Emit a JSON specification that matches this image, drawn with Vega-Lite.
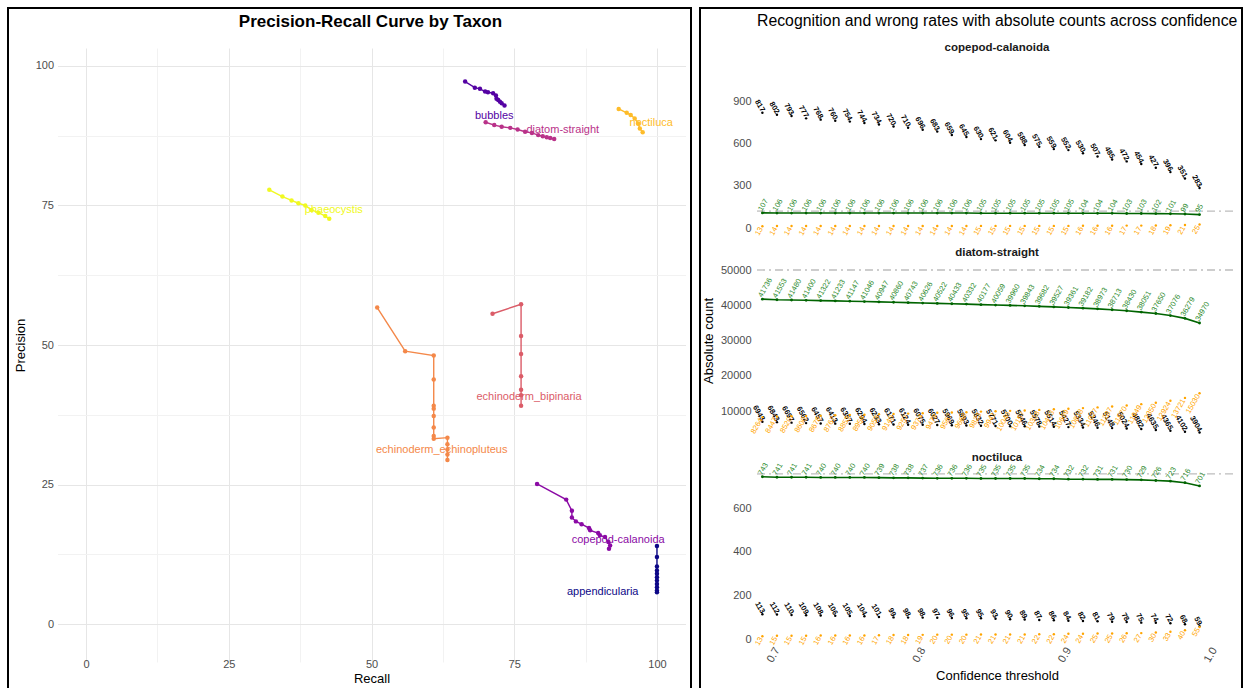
{
  "$schema": "https://vega.github.io/schema/vega-lite/v6.json",
  "padding": {"left": 7, "top": 7, "right": 0, "bottom": 0},
  "background": "white",
  "spacing": 7,
  "config": {
    "font": "Liberation Sans",
    "axis": {"labelFont": "Liberation Sans", "titleFont": "Liberation Sans", "labelColor": "#4d4d4d", "labelFontSize": 11, "titleColor": "black", "titleFontSize": 13, "titleFontWeight": "normal", "domain": false, "ticks": false},
    "title": {"font": "Liberation Sans", "color": "black"}
  },
  "datasets": {
    "pr": [
      {"taxon": "appendicularia", "i": 1, "recall": 100, "precision": 14.0},
      {"taxon": "appendicularia", "i": 2, "recall": 100, "precision": 12.0},
      {"taxon": "appendicularia", "i": 3, "recall": 100, "precision": 10.3},
      {"taxon": "appendicularia", "i": 4, "recall": 100, "precision": 9.6},
      {"taxon": "appendicularia", "i": 5, "recall": 100, "precision": 9.0},
      {"taxon": "appendicularia", "i": 6, "recall": 100, "precision": 8.4},
      {"taxon": "appendicularia", "i": 7, "recall": 100, "precision": 7.8},
      {"taxon": "appendicularia", "i": 8, "recall": 100, "precision": 7.2},
      {"taxon": "appendicularia", "i": 9, "recall": 100, "precision": 6.6},
      {"taxon": "appendicularia", "i": 10, "recall": 100, "precision": 6.0},
      {"taxon": "appendicularia", "i": 11, "recall": 100, "precision": 5.7},
      {"taxon": "bubbles", "i": 1, "recall": 66.4, "precision": 97.2},
      {"taxon": "bubbles", "i": 2, "recall": 68.1, "precision": 96.1},
      {"taxon": "bubbles", "i": 3, "recall": 69.0, "precision": 95.9},
      {"taxon": "bubbles", "i": 4, "recall": 69.9, "precision": 95.4},
      {"taxon": "bubbles", "i": 5, "recall": 70.4, "precision": 95.3},
      {"taxon": "bubbles", "i": 6, "recall": 71.3, "precision": 95.1},
      {"taxon": "bubbles", "i": 7, "recall": 71.8, "precision": 94.7},
      {"taxon": "bubbles", "i": 8, "recall": 71.9, "precision": 94.1},
      {"taxon": "bubbles", "i": 9, "recall": 72.2, "precision": 93.9},
      {"taxon": "bubbles", "i": 10, "recall": 72.5, "precision": 93.6},
      {"taxon": "bubbles", "i": 11, "recall": 72.8, "precision": 93.3},
      {"taxon": "bubbles", "i": 12, "recall": 73.3, "precision": 92.9},
      {"taxon": "copepod-calanoida", "i": 1, "recall": 79.0, "precision": 25.1},
      {"taxon": "copepod-calanoida", "i": 2, "recall": 84.1, "precision": 22.3},
      {"taxon": "copepod-calanoida", "i": 3, "recall": 85.1, "precision": 20.3},
      {"taxon": "copepod-calanoida", "i": 4, "recall": 85.1, "precision": 19.1},
      {"taxon": "copepod-calanoida", "i": 5, "recall": 85.8, "precision": 18.4},
      {"taxon": "copepod-calanoida", "i": 6, "recall": 86.8, "precision": 17.9},
      {"taxon": "copepod-calanoida", "i": 7, "recall": 88.1, "precision": 17.2},
      {"taxon": "copepod-calanoida", "i": 8, "recall": 88.3, "precision": 16.8},
      {"taxon": "copepod-calanoida", "i": 9, "recall": 89.7, "precision": 16.3},
      {"taxon": "copepod-calanoida", "i": 10, "recall": 90.0, "precision": 15.9},
      {"taxon": "copepod-calanoida", "i": 11, "recall": 90.9, "precision": 15.6},
      {"taxon": "copepod-calanoida", "i": 12, "recall": 91.5, "precision": 14.7},
      {"taxon": "copepod-calanoida", "i": 13, "recall": 91.8, "precision": 14.1},
      {"taxon": "copepod-calanoida", "i": 14, "recall": 91.6, "precision": 13.5},
      {"taxon": "diatom-straight", "i": 1, "recall": 70.0, "precision": 89.9},
      {"taxon": "diatom-straight", "i": 2, "recall": 71.5, "precision": 89.4},
      {"taxon": "diatom-straight", "i": 3, "recall": 72.8, "precision": 89.1},
      {"taxon": "diatom-straight", "i": 4, "recall": 74.3, "precision": 88.9},
      {"taxon": "diatom-straight", "i": 5, "recall": 75.6, "precision": 88.6},
      {"taxon": "diatom-straight", "i": 6, "recall": 76.9, "precision": 88.2},
      {"taxon": "diatom-straight", "i": 7, "recall": 78.1, "precision": 88.0},
      {"taxon": "diatom-straight", "i": 8, "recall": 79.2, "precision": 87.6},
      {"taxon": "diatom-straight", "i": 9, "recall": 80.0, "precision": 87.4},
      {"taxon": "diatom-straight", "i": 10, "recall": 80.7, "precision": 87.2},
      {"taxon": "diatom-straight", "i": 11, "recall": 81.3, "precision": 87.1},
      {"taxon": "diatom-straight", "i": 12, "recall": 82.0, "precision": 86.9},
      {"taxon": "echinoderm_bipinaria", "i": 1, "recall": 71.2, "precision": 55.6},
      {"taxon": "echinoderm_bipinaria", "i": 2, "recall": 76.2, "precision": 57.3},
      {"taxon": "echinoderm_bipinaria", "i": 3, "recall": 76.2, "precision": 51.6},
      {"taxon": "echinoderm_bipinaria", "i": 4, "recall": 76.2, "precision": 48.4},
      {"taxon": "echinoderm_bipinaria", "i": 5, "recall": 76.2, "precision": 44.4},
      {"taxon": "echinoderm_bipinaria", "i": 6, "recall": 76.2, "precision": 42.0},
      {"taxon": "echinoderm_bipinaria", "i": 7, "recall": 76.2, "precision": 41.0},
      {"taxon": "echinoderm_bipinaria", "i": 8, "recall": 76.2, "precision": 39.1},
      {"taxon": "echinoderm_echinopluteus", "i": 1, "recall": 51.0, "precision": 56.7},
      {"taxon": "echinoderm_echinopluteus", "i": 2, "recall": 55.9, "precision": 48.9},
      {"taxon": "echinoderm_echinopluteus", "i": 3, "recall": 60.9, "precision": 48.1},
      {"taxon": "echinoderm_echinopluteus", "i": 4, "recall": 60.9, "precision": 43.8},
      {"taxon": "echinoderm_echinopluteus", "i": 5, "recall": 60.9, "precision": 39.1},
      {"taxon": "echinoderm_echinopluteus", "i": 6, "recall": 60.9, "precision": 38.6},
      {"taxon": "echinoderm_echinopluteus", "i": 7, "recall": 60.9, "precision": 37.3},
      {"taxon": "echinoderm_echinopluteus", "i": 8, "recall": 60.9, "precision": 35.2},
      {"taxon": "echinoderm_echinopluteus", "i": 9, "recall": 60.9, "precision": 33.7},
      {"taxon": "echinoderm_echinopluteus", "i": 10, "recall": 60.9, "precision": 33.2},
      {"taxon": "echinoderm_echinopluteus", "i": 11, "recall": 63.3, "precision": 33.4},
      {"taxon": "echinoderm_echinopluteus", "i": 12, "recall": 63.3, "precision": 32.2},
      {"taxon": "echinoderm_echinopluteus", "i": 13, "recall": 63.3, "precision": 31.3},
      {"taxon": "echinoderm_echinopluteus", "i": 14, "recall": 63.3, "precision": 30.4},
      {"taxon": "echinoderm_echinopluteus", "i": 15, "recall": 63.3, "precision": 29.4},
      {"taxon": "noctiluca", "i": 1, "recall": 93.3, "precision": 92.3},
      {"taxon": "noctiluca", "i": 2, "recall": 94.7, "precision": 91.6},
      {"taxon": "noctiluca", "i": 3, "recall": 95.4, "precision": 91.2},
      {"taxon": "noctiluca", "i": 4, "recall": 96.1, "precision": 90.6},
      {"taxon": "noctiluca", "i": 5, "recall": 96.7, "precision": 89.7},
      {"taxon": "noctiluca", "i": 6, "recall": 97.0, "precision": 88.8},
      {"taxon": "noctiluca", "i": 7, "recall": 97.5, "precision": 88.1},
      {"taxon": "phaeocystis", "i": 1, "recall": 32.1, "precision": 77.8},
      {"taxon": "phaeocystis", "i": 2, "recall": 34.4, "precision": 76.6},
      {"taxon": "phaeocystis", "i": 3, "recall": 36.0, "precision": 75.9},
      {"taxon": "phaeocystis", "i": 4, "recall": 37.2, "precision": 75.4},
      {"taxon": "phaeocystis", "i": 5, "recall": 38.4, "precision": 75.0},
      {"taxon": "phaeocystis", "i": 6, "recall": 39.5, "precision": 74.2},
      {"taxon": "phaeocystis", "i": 7, "recall": 40.7, "precision": 73.7},
      {"taxon": "phaeocystis", "i": 8, "recall": 41.9, "precision": 73.1},
      {"taxon": "phaeocystis", "i": 9, "recall": 42.6, "precision": 72.6}
    ],
    "prlabels": [
      {"taxon": "appendicularia", "recall": 90.5, "precision": 5.7},
      {"taxon": "bubbles", "recall": 71.5, "precision": 91.1},
      {"taxon": "copepod-calanoida", "recall": 93.2, "precision": 15.0},
      {"taxon": "diatom-straight", "recall": 83.5, "precision": 88.6},
      {"taxon": "echinoderm_bipinaria", "recall": 77.6, "precision": 40.6},
      {"taxon": "echinoderm_echinopluteus", "recall": 62.3, "precision": 31.1},
      {"taxon": "noctiluca", "recall": 99.0, "precision": 89.8},
      {"taxon": "phaeocystis", "recall": 43.4, "precision": 74.2}
    ],
    "counts": [
      {"taxon": "copepod-calanoida", "threshold": 0.69, "recognized": 107, "wrong": 817, "missed": 13, "total": 120},
      {"taxon": "copepod-calanoida", "threshold": 0.70, "recognized": 106, "wrong": 802, "missed": 14, "total": 120},
      {"taxon": "copepod-calanoida", "threshold": 0.71, "recognized": 106, "wrong": 793, "missed": 14, "total": 120},
      {"taxon": "copepod-calanoida", "threshold": 0.72, "recognized": 106, "wrong": 777, "missed": 14, "total": 120},
      {"taxon": "copepod-calanoida", "threshold": 0.73, "recognized": 106, "wrong": 768, "missed": 14, "total": 120},
      {"taxon": "copepod-calanoida", "threshold": 0.74, "recognized": 106, "wrong": 760, "missed": 14, "total": 120},
      {"taxon": "copepod-calanoida", "threshold": 0.75, "recognized": 106, "wrong": 754, "missed": 14, "total": 120},
      {"taxon": "copepod-calanoida", "threshold": 0.76, "recognized": 106, "wrong": 744, "missed": 14, "total": 120},
      {"taxon": "copepod-calanoida", "threshold": 0.77, "recognized": 106, "wrong": 734, "missed": 14, "total": 120},
      {"taxon": "copepod-calanoida", "threshold": 0.78, "recognized": 106, "wrong": 720, "missed": 14, "total": 120},
      {"taxon": "copepod-calanoida", "threshold": 0.79, "recognized": 106, "wrong": 710, "missed": 14, "total": 120},
      {"taxon": "copepod-calanoida", "threshold": 0.80, "recognized": 106, "wrong": 696, "missed": 14, "total": 120},
      {"taxon": "copepod-calanoida", "threshold": 0.81, "recognized": 106, "wrong": 683, "missed": 14, "total": 120},
      {"taxon": "copepod-calanoida", "threshold": 0.82, "recognized": 106, "wrong": 659, "missed": 14, "total": 120},
      {"taxon": "copepod-calanoida", "threshold": 0.83, "recognized": 106, "wrong": 645, "missed": 14, "total": 120},
      {"taxon": "copepod-calanoida", "threshold": 0.84, "recognized": 105, "wrong": 630, "missed": 15, "total": 120},
      {"taxon": "copepod-calanoida", "threshold": 0.85, "recognized": 105, "wrong": 621, "missed": 15, "total": 120},
      {"taxon": "copepod-calanoida", "threshold": 0.86, "recognized": 105, "wrong": 604, "missed": 15, "total": 120},
      {"taxon": "copepod-calanoida", "threshold": 0.87, "recognized": 105, "wrong": 588, "missed": 15, "total": 120},
      {"taxon": "copepod-calanoida", "threshold": 0.88, "recognized": 105, "wrong": 575, "missed": 15, "total": 120},
      {"taxon": "copepod-calanoida", "threshold": 0.89, "recognized": 105, "wrong": 559, "missed": 15, "total": 120},
      {"taxon": "copepod-calanoida", "threshold": 0.90, "recognized": 105, "wrong": 552, "missed": 15, "total": 120},
      {"taxon": "copepod-calanoida", "threshold": 0.91, "recognized": 104, "wrong": 530, "missed": 16, "total": 120},
      {"taxon": "copepod-calanoida", "threshold": 0.92, "recognized": 104, "wrong": 507, "missed": 16, "total": 120},
      {"taxon": "copepod-calanoida", "threshold": 0.93, "recognized": 104, "wrong": 485, "missed": 16, "total": 120},
      {"taxon": "copepod-calanoida", "threshold": 0.94, "recognized": 103, "wrong": 472, "missed": 17, "total": 120},
      {"taxon": "copepod-calanoida", "threshold": 0.95, "recognized": 103, "wrong": 454, "missed": 17, "total": 120},
      {"taxon": "copepod-calanoida", "threshold": 0.96, "recognized": 102, "wrong": 427, "missed": 18, "total": 120},
      {"taxon": "copepod-calanoida", "threshold": 0.97, "recognized": 101, "wrong": 396, "missed": 19, "total": 120},
      {"taxon": "copepod-calanoida", "threshold": 0.98, "recognized": 99, "wrong": 351, "missed": 21, "total": 120},
      {"taxon": "copepod-calanoida", "threshold": 0.99, "recognized": 95, "wrong": 283, "missed": 25, "total": 120},
      {"taxon": "diatom-straight", "threshold": 0.69, "recognized": 41736, "wrong": 6943, "missed": 8264, "total": 50000},
      {"taxon": "diatom-straight", "threshold": 0.70, "recognized": 41553, "wrong": 6843, "missed": 8447, "total": 50000},
      {"taxon": "diatom-straight", "threshold": 0.71, "recognized": 41480, "wrong": 6697, "missed": 8520, "total": 50000},
      {"taxon": "diatom-straight", "threshold": 0.72, "recognized": 41400, "wrong": 6562, "missed": 8600, "total": 50000},
      {"taxon": "diatom-straight", "threshold": 0.73, "recognized": 41322, "wrong": 6457, "missed": 8678, "total": 50000},
      {"taxon": "diatom-straight", "threshold": 0.74, "recognized": 41233, "wrong": 6413, "missed": 8767, "total": 50000},
      {"taxon": "diatom-straight", "threshold": 0.75, "recognized": 41147, "wrong": 6357, "missed": 8853, "total": 50000},
      {"taxon": "diatom-straight", "threshold": 0.76, "recognized": 41046, "wrong": 6294, "missed": 8954, "total": 50000},
      {"taxon": "diatom-straight", "threshold": 0.77, "recognized": 40947, "wrong": 6233, "missed": 9053, "total": 50000},
      {"taxon": "diatom-straight", "threshold": 0.78, "recognized": 40860, "wrong": 6171, "missed": 9140, "total": 50000},
      {"taxon": "diatom-straight", "threshold": 0.79, "recognized": 40743, "wrong": 6124, "missed": 9257, "total": 50000},
      {"taxon": "diatom-straight", "threshold": 0.80, "recognized": 40626, "wrong": 6075, "missed": 9374, "total": 50000},
      {"taxon": "diatom-straight", "threshold": 0.81, "recognized": 40522, "wrong": 6027, "missed": 9478, "total": 50000},
      {"taxon": "diatom-straight", "threshold": 0.82, "recognized": 40433, "wrong": 5969, "missed": 9567, "total": 50000},
      {"taxon": "diatom-straight", "threshold": 0.83, "recognized": 40332, "wrong": 5893, "missed": 9668, "total": 50000},
      {"taxon": "diatom-straight", "threshold": 0.84, "recognized": 40177, "wrong": 5832, "missed": 9823, "total": 50000},
      {"taxon": "diatom-straight", "threshold": 0.85, "recognized": 40059, "wrong": 5771, "missed": 9941, "total": 50000},
      {"taxon": "diatom-straight", "threshold": 0.86, "recognized": 39960, "wrong": 5700, "missed": 10040, "total": 50000},
      {"taxon": "diatom-straight", "threshold": 0.87, "recognized": 39843, "wrong": 5646, "missed": 10157, "total": 50000},
      {"taxon": "diatom-straight", "threshold": 0.88, "recognized": 39682, "wrong": 5578, "missed": 10318, "total": 50000},
      {"taxon": "diatom-straight", "threshold": 0.89, "recognized": 39527, "wrong": 5514, "missed": 10473, "total": 50000},
      {"taxon": "diatom-straight", "threshold": 0.90, "recognized": 39361, "wrong": 5427, "missed": 10639, "total": 50000},
      {"taxon": "diatom-straight", "threshold": 0.91, "recognized": 39182, "wrong": 5334, "missed": 10818, "total": 50000},
      {"taxon": "diatom-straight", "threshold": 0.92, "recognized": 38973, "wrong": 5246, "missed": 11027, "total": 50000},
      {"taxon": "diatom-straight", "threshold": 0.93, "recognized": 38713, "wrong": 5148, "missed": 11287, "total": 50000},
      {"taxon": "diatom-straight", "threshold": 0.94, "recognized": 38430, "wrong": 5024, "missed": 11570, "total": 50000},
      {"taxon": "diatom-straight", "threshold": 0.95, "recognized": 38051, "wrong": 4882, "missed": 11949, "total": 50000},
      {"taxon": "diatom-straight", "threshold": 0.96, "recognized": 37650, "wrong": 4635, "missed": 12350, "total": 50000},
      {"taxon": "diatom-straight", "threshold": 0.97, "recognized": 37076, "wrong": 4365, "missed": 12924, "total": 50000},
      {"taxon": "diatom-straight", "threshold": 0.98, "recognized": 36279, "wrong": 4102, "missed": 13721, "total": 50000},
      {"taxon": "diatom-straight", "threshold": 0.99, "recognized": 34970, "wrong": 3904, "missed": 15030, "total": 50000},
      {"taxon": "noctiluca", "threshold": 0.69, "recognized": 743, "wrong": 113, "missed": 13, "total": 756},
      {"taxon": "noctiluca", "threshold": 0.70, "recognized": 741, "wrong": 112, "missed": 15, "total": 756},
      {"taxon": "noctiluca", "threshold": 0.71, "recognized": 741, "wrong": 110, "missed": 15, "total": 756},
      {"taxon": "noctiluca", "threshold": 0.72, "recognized": 741, "wrong": 109, "missed": 15, "total": 756},
      {"taxon": "noctiluca", "threshold": 0.73, "recognized": 740, "wrong": 108, "missed": 16, "total": 756},
      {"taxon": "noctiluca", "threshold": 0.74, "recognized": 740, "wrong": 106, "missed": 16, "total": 756},
      {"taxon": "noctiluca", "threshold": 0.75, "recognized": 740, "wrong": 105, "missed": 16, "total": 756},
      {"taxon": "noctiluca", "threshold": 0.76, "recognized": 740, "wrong": 104, "missed": 16, "total": 756},
      {"taxon": "noctiluca", "threshold": 0.77, "recognized": 739, "wrong": 101, "missed": 17, "total": 756},
      {"taxon": "noctiluca", "threshold": 0.78, "recognized": 738, "wrong": 99, "missed": 18, "total": 756},
      {"taxon": "noctiluca", "threshold": 0.79, "recognized": 738, "wrong": 98, "missed": 18, "total": 756},
      {"taxon": "noctiluca", "threshold": 0.80, "recognized": 737, "wrong": 98, "missed": 19, "total": 756},
      {"taxon": "noctiluca", "threshold": 0.81, "recognized": 736, "wrong": 97, "missed": 20, "total": 756},
      {"taxon": "noctiluca", "threshold": 0.82, "recognized": 736, "wrong": 96, "missed": 20, "total": 756},
      {"taxon": "noctiluca", "threshold": 0.83, "recognized": 736, "wrong": 95, "missed": 20, "total": 756},
      {"taxon": "noctiluca", "threshold": 0.84, "recognized": 735, "wrong": 95, "missed": 21, "total": 756},
      {"taxon": "noctiluca", "threshold": 0.85, "recognized": 735, "wrong": 93, "missed": 21, "total": 756},
      {"taxon": "noctiluca", "threshold": 0.86, "recognized": 735, "wrong": 90, "missed": 21, "total": 756},
      {"taxon": "noctiluca", "threshold": 0.87, "recognized": 735, "wrong": 89, "missed": 21, "total": 756},
      {"taxon": "noctiluca", "threshold": 0.88, "recognized": 734, "wrong": 87, "missed": 22, "total": 756},
      {"taxon": "noctiluca", "threshold": 0.89, "recognized": 734, "wrong": 86, "missed": 22, "total": 756},
      {"taxon": "noctiluca", "threshold": 0.90, "recognized": 732, "wrong": 84, "missed": 24, "total": 756},
      {"taxon": "noctiluca", "threshold": 0.91, "recognized": 732, "wrong": 82, "missed": 24, "total": 756},
      {"taxon": "noctiluca", "threshold": 0.92, "recognized": 731, "wrong": 81, "missed": 25, "total": 756},
      {"taxon": "noctiluca", "threshold": 0.93, "recognized": 731, "wrong": 79, "missed": 25, "total": 756},
      {"taxon": "noctiluca", "threshold": 0.94, "recognized": 730, "wrong": 78, "missed": 26, "total": 756},
      {"taxon": "noctiluca", "threshold": 0.95, "recognized": 729, "wrong": 75, "missed": 27, "total": 756},
      {"taxon": "noctiluca", "threshold": 0.96, "recognized": 726, "wrong": 74, "missed": 30, "total": 756},
      {"taxon": "noctiluca", "threshold": 0.97, "recognized": 723, "wrong": 72, "missed": 33, "total": 756},
      {"taxon": "noctiluca", "threshold": 0.98, "recognized": 716, "wrong": 68, "missed": 40, "total": 756},
      {"taxon": "noctiluca", "threshold": 0.99, "recognized": 701, "wrong": 59, "missed": 55, "total": 756}
    ]
  },
  "hconcat": [
    {
      "width": 683,
      "height": 684,
      "view": {"stroke": "black", "strokeWidth": 2},
      "title": {"text": "Precision-Recall Curve by Taxon", "fontSize": 17, "fontWeight": "bold", "anchor": "middle", "offset": -23, "dx": 21},
      "layer": [
        {
          "data": {"name": "pr"},
          "mark": {"type": "line", "strokeWidth": 1.4, "point": {"filled": true, "size": 20}},
          "encoding": {
            "x": {"field": "recall", "type": "quantitative", "title": "Recall",
                  "scale": {"domain": [-5, 105], "range": [49.5, 677.5], "nice": false, "zero": false},
                  "axis": {"values": [0, 12.5, 25, 37.5, 50, 62.5, 75, 87.5, 100], "labelExpr": "datum.value % 25 === 0 ? format(datum.value, 'd') : ''", "grid": true, "gridColor": {"condition": {"test": "datum.value % 25 === 0", "value": "#e6e6e6"}, "value": "#f2f2f2"}, "gridWidth": 1, "offset": -40, "labelPadding": 6, "titlePadding": 3, "labelFontSize": 11, "labelOverlap": false}},
            "y": {"field": "precision", "type": "quantitative", "title": "Precision",
                  "scale": {"domain": [-5, 105], "range": [644, 30], "nice": false, "zero": false},
                  "axis": {"values": [0, 12.5, 25, 37.5, 50, 62.5, 75, 87.5, 100], "labelExpr": "datum.value % 25 === 0 ? format(datum.value, 'd') : ''", "grid": true, "gridColor": {"condition": {"test": "datum.value % 25 === 0", "value": "#e6e6e6"}, "value": "#f2f2f2"}, "gridWidth": 1, "offset": -49.5, "labelPadding": 4, "titlePadding": 8, "labelOverlap": false}},
            "color": {"field": "taxon", "type": "nominal", "legend": null,
                      "scale": {"domain": ["appendicularia", "bubbles", "copepod-calanoida", "diatom-straight", "echinoderm_bipinaria", "echinoderm_echinopluteus", "noctiluca", "phaeocystis"],
                                "range": ["#0D0887", "#5402A3", "#8B0AA5", "#B93289", "#DB5C68", "#F48849", "#FEBC2A", "#F0F921"]}},
            "order": {"field": "i", "type": "quantitative"}
          }
        },
        {
          "data": {"name": "prlabels"},
          "mark": {"type": "text", "fontSize": 11, "align": "center", "baseline": "middle"},
          "encoding": {
            "x": {"field": "recall", "type": "quantitative"},
            "y": {"field": "precision", "type": "quantitative"},
            "text": {"field": "taxon"},
            "color": {"field": "taxon", "type": "nominal", "legend": null}
          }
        }
      ]
    },
    {
      "width": 542,
      "height": 684,
      "view": {"stroke": "black", "strokeWidth": 2},
      "title": {"text": "Recognition and wrong rates with absolute counts across confidence", "fontSize": 15.8, "fontWeight": "normal", "anchor": "start", "frame": "group", "offset": -22, "dx": 57},
      "resolve": {"scale": {"y": "independent"}},
      "layer": [
        {"data": {"name": "counts"}, "transform": [{"filter": "datum.taxon === 'copepod-calanoida'"}],
         "mark": {"type": "line", "color": "#006400", "strokeWidth": 1.6},
         "encoding": {
           "x": {"field": "threshold", "type": "quantitative", "title": "Confidence threshold",
                 "scale": {"domain": [0.6863, 1.0157], "range": [57, 537], "nice": false, "zero": false},
                 "axis": {"values": [0.7, 0.8, 0.9, 1.0], "format": ".1f", "labelAngle": -60, "offset": -47, "labelPadding": 3, "titlePadding": 6, "grid": false}},
           "y": {"field": "recognized", "type": "quantitative", "title": null,
                 "scale": {"domain": [0, 900], "range": [220, 93], "nice": false, "zero": false},
                 "axis": {"orient": "left", "values": [0, 300, 600, 900], "grid": false, "offset": -54, "labelPadding": 3}}}},
        {"data": {"name": "counts"}, "transform": [{"filter": "datum.taxon === 'copepod-calanoida'"}],
         "mark": {"type": "rule", "color": "#bdbdbd", "strokeWidth": 1.3, "strokeDash": [8, 4, 2, 4]},
         "encoding": {"x": {"datum": 0.6863, "type": "quantitative"}, "x2": {"datum": 1.0157},
                      "y": {"aggregate": "max", "field": "total", "type": "quantitative", "axis": null, "scale": {"domain": [0, 900], "range": [220, 93], "nice": false, "zero": false}}}},
        {"data": {"name": "counts"}, "transform": [{"filter": "datum.taxon === 'copepod-calanoida'"}],
         "mark": {"type": "point", "filled": true, "size": 8, "color": "#006400", "opacity": 1},
         "encoding": {"x": {"field": "threshold", "type": "quantitative"},
                      "y": {"field": "recognized", "type": "quantitative", "axis": null, "scale": {"domain": [0, 900], "range": [220, 93], "nice": false, "zero": false}}}},
        {"data": {"name": "counts"}, "transform": [{"filter": "datum.taxon === 'copepod-calanoida'"}],
         "mark": {"type": "text", "fontSize": 7.5, "color": "#2e8b2e", "angle": -60, "align": "left", "baseline": "middle", "dx": 1, "dy": -3},
         "encoding": {"x": {"field": "threshold", "type": "quantitative"},
                      "y": {"field": "recognized", "type": "quantitative", "axis": null, "scale": {"domain": [0, 900], "range": [220, 93], "nice": false, "zero": false}},
                      "text": {"field": "recognized"}}},
        {"data": {"name": "counts"}, "transform": [{"filter": "datum.taxon === 'copepod-calanoida'"}],
         "mark": {"type": "point", "filled": true, "size": 6, "color": "black", "opacity": 1},
         "encoding": {"x": {"field": "threshold", "type": "quantitative"},
                      "y": {"field": "wrong", "type": "quantitative", "axis": null, "scale": {"domain": [0, 900], "range": [220, 93], "nice": false, "zero": false}}}},
        {"data": {"name": "counts"}, "transform": [{"filter": "datum.taxon === 'copepod-calanoida'"}],
         "mark": {"type": "text", "fontSize": 7.5, "fontWeight": "bold", "color": "black", "angle": 60, "align": "right", "baseline": "middle", "dx": -1, "dy": -1},
         "encoding": {"x": {"field": "threshold", "type": "quantitative"},
                      "y": {"field": "wrong", "type": "quantitative", "axis": null, "scale": {"domain": [0, 900], "range": [220, 93], "nice": false, "zero": false}},
                      "text": {"field": "wrong"}}},
        {"data": {"name": "counts"}, "transform": [{"filter": "datum.taxon === 'copepod-calanoida'"}],
         "mark": {"type": "point", "filled": true, "size": 6, "color": "#FFA500", "opacity": 1},
         "encoding": {"x": {"field": "threshold", "type": "quantitative"},
                      "y": {"field": "missed", "type": "quantitative", "axis": null, "scale": {"domain": [0, 900], "range": [220, 93], "nice": false, "zero": false}}}},
        {"data": {"name": "counts"}, "transform": [{"filter": "datum.taxon === 'copepod-calanoida'"}],
         "mark": {"type": "text", "fontSize": 7.5, "color": "#FFA500", "angle": -60, "align": "right", "baseline": "middle", "dx": -2},
         "encoding": {"x": {"field": "threshold", "type": "quantitative"},
                      "y": {"field": "missed", "type": "quantitative", "axis": null, "scale": {"domain": [0, 900], "range": [220, 93], "nice": false, "zero": false}},
                      "text": {"field": "missed"}}},
        {"data": {"values": [{"taxon": "copepod-calanoida"}]},
         "mark": {"type": "text", "fontSize": 11.5, "fontWeight": "bold", "color": "#1a1a1a", "align": "center", "baseline": "middle"},
         "encoding": {"x": {"datum": 0.851, "type": "quantitative"},
                      "y": {"datum": 1276, "type": "quantitative", "axis": null, "scale": {"domain": [0, 900], "range": [220, 93], "nice": false, "zero": false}},
                      "text": {"field": "taxon"}}},

        {"data": {"name": "counts"}, "transform": [{"filter": "datum.taxon === 'diatom-straight'"}],
         "mark": {"type": "line", "color": "#006400", "strokeWidth": 1.6},
         "encoding": {
           "x": {"field": "threshold", "type": "quantitative"},
           "y": {"field": "recognized", "type": "quantitative", "title": "Absolute count",
                 "scale": {"domain": [10000, 50000], "range": [403, 262], "nice": false, "zero": false},
                 "axis": {"orient": "left", "values": [10000, 20000, 30000, 40000, 50000], "format": "d", "grid": false, "offset": -54, "labelPadding": 3, "titlePadding": 5}}}},
        {"data": {"name": "counts"}, "transform": [{"filter": "datum.taxon === 'diatom-straight'"}],
         "mark": {"type": "rule", "color": "#bdbdbd", "strokeWidth": 1.3, "strokeDash": [8, 4, 2, 4]},
         "encoding": {"x": {"datum": 0.6863, "type": "quantitative"}, "x2": {"datum": 1.0157},
                      "y": {"aggregate": "max", "field": "total", "type": "quantitative", "axis": null, "scale": {"domain": [10000, 50000], "range": [403, 262], "nice": false, "zero": false}}}},
        {"data": {"name": "counts"}, "transform": [{"filter": "datum.taxon === 'diatom-straight'"}],
         "mark": {"type": "point", "filled": true, "size": 8, "color": "#006400", "opacity": 1},
         "encoding": {"x": {"field": "threshold", "type": "quantitative"},
                      "y": {"field": "recognized", "type": "quantitative", "axis": null, "scale": {"domain": [10000, 50000], "range": [403, 262], "nice": false, "zero": false}}}},
        {"data": {"name": "counts"}, "transform": [{"filter": "datum.taxon === 'diatom-straight'"}],
         "mark": {"type": "text", "fontSize": 7.5, "color": "#2e8b2e", "angle": -60, "align": "left", "baseline": "middle", "dx": 1, "dy": -3},
         "encoding": {"x": {"field": "threshold", "type": "quantitative"},
                      "y": {"field": "recognized", "type": "quantitative", "axis": null, "scale": {"domain": [10000, 50000], "range": [403, 262], "nice": false, "zero": false}},
                      "text": {"field": "recognized"}}},
        {"data": {"name": "counts"}, "transform": [{"filter": "datum.taxon === 'diatom-straight'"}],
         "mark": {"type": "point", "filled": true, "size": 6, "color": "black", "opacity": 1},
         "encoding": {"x": {"field": "threshold", "type": "quantitative"},
                      "y": {"field": "wrong", "type": "quantitative", "axis": null, "scale": {"domain": [10000, 50000], "range": [403, 262], "nice": false, "zero": false}}}},
        {"data": {"name": "counts"}, "transform": [{"filter": "datum.taxon === 'diatom-straight'"}],
         "mark": {"type": "text", "fontSize": 7.5, "fontWeight": "bold", "color": "black", "angle": 60, "align": "right", "baseline": "middle", "dx": -1, "dy": -1},
         "encoding": {"x": {"field": "threshold", "type": "quantitative"},
                      "y": {"field": "wrong", "type": "quantitative", "axis": null, "scale": {"domain": [10000, 50000], "range": [403, 262], "nice": false, "zero": false}},
                      "text": {"field": "wrong"}}},
        {"data": {"name": "counts"}, "transform": [{"filter": "datum.taxon === 'diatom-straight'"}],
         "mark": {"type": "point", "filled": true, "size": 6, "color": "#FFA500", "opacity": 1},
         "encoding": {"x": {"field": "threshold", "type": "quantitative"},
                      "y": {"field": "missed", "type": "quantitative", "axis": null, "scale": {"domain": [10000, 50000], "range": [403, 262], "nice": false, "zero": false}}}},
        {"data": {"name": "counts"}, "transform": [{"filter": "datum.taxon === 'diatom-straight'"}],
         "mark": {"type": "text", "fontSize": 7.5, "color": "#FFA500", "angle": -60, "align": "right", "baseline": "middle", "dx": -2},
         "encoding": {"x": {"field": "threshold", "type": "quantitative"},
                      "y": {"field": "missed", "type": "quantitative", "axis": null, "scale": {"domain": [10000, 50000], "range": [403, 262], "nice": false, "zero": false}},
                      "text": {"field": "missed"}}},
        {"data": {"values": [{"taxon": "diatom-straight"}]},
         "mark": {"type": "text", "fontSize": 11.5, "fontWeight": "bold", "color": "#1a1a1a", "align": "center", "baseline": "middle"},
         "encoding": {"x": {"datum": 0.851, "type": "quantitative"},
                      "y": {"datum": 54823, "type": "quantitative", "axis": null, "scale": {"domain": [10000, 50000], "range": [403, 262], "nice": false, "zero": false}},
                      "text": {"field": "taxon"}}},

        {"data": {"name": "counts"}, "transform": [{"filter": "datum.taxon === 'noctiluca'"}],
         "mark": {"type": "line", "color": "#006400", "strokeWidth": 1.6},
         "encoding": {
           "x": {"field": "threshold", "type": "quantitative"},
           "y": {"field": "recognized", "type": "quantitative", "title": null,
                 "scale": {"domain": [0, 600], "range": [631, 500], "nice": false, "zero": false},
                 "axis": {"orient": "left", "values": [0, 200, 400, 600], "grid": false, "offset": -54, "labelPadding": 3}}}},
        {"data": {"name": "counts"}, "transform": [{"filter": "datum.taxon === 'noctiluca'"}],
         "mark": {"type": "rule", "color": "#bdbdbd", "strokeWidth": 1.3, "strokeDash": [8, 4, 2, 4]},
         "encoding": {"x": {"datum": 0.6863, "type": "quantitative"}, "x2": {"datum": 1.0157},
                      "y": {"aggregate": "max", "field": "total", "type": "quantitative", "axis": null, "scale": {"domain": [0, 600], "range": [631, 500], "nice": false, "zero": false}}}},
        {"data": {"name": "counts"}, "transform": [{"filter": "datum.taxon === 'noctiluca'"}],
         "mark": {"type": "point", "filled": true, "size": 8, "color": "#006400", "opacity": 1},
         "encoding": {"x": {"field": "threshold", "type": "quantitative"},
                      "y": {"field": "recognized", "type": "quantitative", "axis": null, "scale": {"domain": [0, 600], "range": [631, 500], "nice": false, "zero": false}}}},
        {"data": {"name": "counts"}, "transform": [{"filter": "datum.taxon === 'noctiluca'"}],
         "mark": {"type": "text", "fontSize": 7.5, "color": "#2e8b2e", "angle": -60, "align": "left", "baseline": "middle", "dx": 1, "dy": -3},
         "encoding": {"x": {"field": "threshold", "type": "quantitative"},
                      "y": {"field": "recognized", "type": "quantitative", "axis": null, "scale": {"domain": [0, 600], "range": [631, 500], "nice": false, "zero": false}},
                      "text": {"field": "recognized"}}},
        {"data": {"name": "counts"}, "transform": [{"filter": "datum.taxon === 'noctiluca'"}],
         "mark": {"type": "point", "filled": true, "size": 6, "color": "black", "opacity": 1},
         "encoding": {"x": {"field": "threshold", "type": "quantitative"},
                      "y": {"field": "wrong", "type": "quantitative", "axis": null, "scale": {"domain": [0, 600], "range": [631, 500], "nice": false, "zero": false}}}},
        {"data": {"name": "counts"}, "transform": [{"filter": "datum.taxon === 'noctiluca'"}],
         "mark": {"type": "text", "fontSize": 7.5, "fontWeight": "bold", "color": "black", "angle": 60, "align": "right", "baseline": "middle", "dx": -1, "dy": -1},
         "encoding": {"x": {"field": "threshold", "type": "quantitative"},
                      "y": {"field": "wrong", "type": "quantitative", "axis": null, "scale": {"domain": [0, 600], "range": [631, 500], "nice": false, "zero": false}},
                      "text": {"field": "wrong"}}},
        {"data": {"name": "counts"}, "transform": [{"filter": "datum.taxon === 'noctiluca'"}],
         "mark": {"type": "point", "filled": true, "size": 6, "color": "#FFA500", "opacity": 1},
         "encoding": {"x": {"field": "threshold", "type": "quantitative"},
                      "y": {"field": "missed", "type": "quantitative", "axis": null, "scale": {"domain": [0, 600], "range": [631, 500], "nice": false, "zero": false}}}},
        {"data": {"name": "counts"}, "transform": [{"filter": "datum.taxon === 'noctiluca'"}],
         "mark": {"type": "text", "fontSize": 7.5, "color": "#FFA500", "angle": -60, "align": "right", "baseline": "middle", "dx": -2},
         "encoding": {"x": {"field": "threshold", "type": "quantitative"},
                      "y": {"field": "missed", "type": "quantitative", "axis": null, "scale": {"domain": [0, 600], "range": [631, 500], "nice": false, "zero": false}},
                      "text": {"field": "missed"}}},
        {"data": {"values": [{"taxon": "noctiluca"}]},
         "mark": {"type": "text", "fontSize": 11.5, "fontWeight": "bold", "color": "#1a1a1a", "align": "center", "baseline": "middle"},
         "encoding": {"x": {"datum": 0.851, "type": "quantitative"},
                      "y": {"datum": 829, "type": "quantitative", "axis": null, "scale": {"domain": [0, 600], "range": [631, 500], "nice": false, "zero": false}},
                      "text": {"field": "taxon"}}}
      ]
    }
  ]
}
